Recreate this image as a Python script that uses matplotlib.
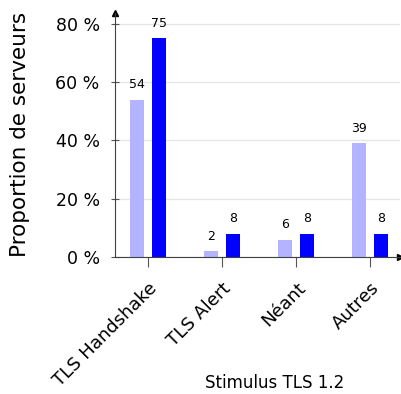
import numpy as np
import matplotlib.pyplot as plt

# stimulus categories and the two series (percent of servers)
categories = ["TLS Handshake", "TLS Alert", "Néant", "Autres"]
serie_a = [54, 2, 6, 39]
serie_b = [75, 8, 8, 8]
yticks = [0, 20, 40, 60, 80]
ytick_labels = ["0 %", "20 %", "40 %", "60 %", "80 %"]

fig = plt.figure(figsize=(4.02, 3.94), dpi=100)
ax = fig.add_axes([0.286, 0.3477, 0.709, 0.62])

x = np.arange(len(categories))
w = 0.19
off = 0.149
b1 = ax.bar(x - off, serie_a, w, color="#b3b3ff", zorder=2)
b2 = ax.bar(x + off, serie_b, w, color="#0000ff", zorder=2)
ax.bar_label(b1, padding=6, fontsize=9)
ax.bar_label(b2, padding=6, fontsize=9)

ax.set_xlim(-0.446, 3.4)
ax.set_ylim(0, 83.8)
ax.set_yticks(yticks)
ax.set_yticklabels(ytick_labels, fontsize=12.5)
ax.set_xticks(x)
ax.set_xticklabels(categories, rotation=45, ha="right", rotation_mode="anchor", fontsize=13)
ax.tick_params(axis="x", length=7, direction="out", color="#555555", pad=9)
ax.tick_params(axis="y", length=6, direction="inout", color="#555555", pad=8)
ax.grid(axis="y", color="#e6e6e6", linewidth=1, zorder=0)

for s in ["top", "right"]:
    ax.spines[s].set_visible(False)
for s in ["left", "bottom"]:
    ax.spines[s].set_color("#404040")
ax.plot(1, 0, ">", color="black", ms=4, transform=ax.transAxes, clip_on=False)
ax.plot(0, 1, "^", color="black", ms=4, transform=ax.transAxes, clip_on=False)

ax.set_ylabel("Proportion de serveurs", fontsize=15.5, labelpad=18)
ax.set_xlabel("Stimulus TLS 1.2", fontsize=12)
ax.xaxis.set_label_coords(0.56, -0.48)

fig.savefig("out.png", dpi=100)
